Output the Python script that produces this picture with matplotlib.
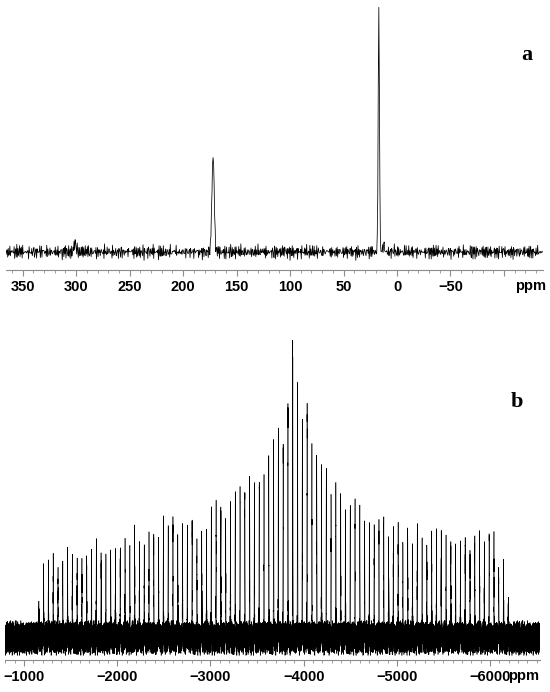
import matplotlib
matplotlib.use("Agg")
import matplotlib.pyplot as plt
import numpy as np

# ---- panel a : 13C CP/MAS ----
a_peak_ppm = [172.0, 17.0, 301.0, 12.5]
a_peak_height = [40.0, 100.0, 4.0, 3.0]
a_peak_sigma = [1.1, 0.6, 1.0, 0.8]
a_ticks = [350, 300, 250, 200, 150, 100, 50, 0, -50, -100]
a_ticklabels = ["350", "300", "250", "200", "150", "100", "50", "0", "\u221250", ""]

# ---- panel b : spinning sideband manifold ----
b_first_ppm = -1159.0
b_spacing_ppm = 51.4
b_heights = [10.5, 20.8, 22.5, 26.1, 21.8, 24.7, 25.9, 26.8, 25.0, 25.7,
             23.6, 27.7, 30.0, 25.3, 27.5, 27.3, 28.6, 29.1, 30.1, 29.8,
             35.8, 30.7, 29.0, 31.8, 32.8, 33.6, 37.6, 34.9, 38.0, 35.2,
             34.7, 35.6, 37.3, 32.4, 32.4, 34.7, 40.7, 42.3, 44.3, 37.2,
             44.9, 44.9, 49.4, 48.3, 53.9, 51.1, 50.9, 55.1, 58.3, 65.1,
             68.4, 63.2, 76.4, 100.0, 85.0, 71.1, 77.5, 62.4, 58.1, 56.6,
             54.3, 46.0, 49.8, 49.0, 42.0, 43.2, 44.1, 42.6, 38.1, 37.3,
             36.9, 35.7, 38.1, 33.3, 33.3, 37.4, 30.7, 32.8, 29.7, 35.7,
             29.4, 28.3, 33.9, 31.7, 31.8, 30.7, 30.1, 28.1, 27.7, 32.2,
             26.0, 30.6, 33.2, 29.9, 32.4, 32.7, 20.2, 23.6, 11.9]
b_ticks = [-1000, -2000, -3000, -4000, -5000, -6000]
b_ticklabels = ["\u22121000", "\u22122000", "\u22123000", "\u22124000", "\u22125000", "\u22126000"]

# baseline noise texture (hand typed)
noise_1 = [0.3, -0.5, 0.8, -0.2, -0.9, 0.4, 0.1, -0.6, 0.7, -0.3, 0.5, -0.8, 0.2,
           0.9, -0.4, -0.1, 0.6, -0.7, 0.0, 0.4, -0.5, 0.8, -0.9, 0.3, 0.1, -0.2,
           0.7, -0.6, 0.5, -0.4, 0.2, -0.8, 0.9, -0.1, -0.3, 0.6, -0.7, 0.4, 0.0,
           -0.5, 0.8, -0.2, 0.3, -0.9, 0.5, 0.1, -0.6, 0.7, -0.4, 0.2, -0.3]
noise_2 = [-0.4, 0.7, 0.1, -0.8, 0.5, -0.2, 0.9, -0.6, 0.3, 0.0, -0.7, 0.6, -0.1,
           0.4, -0.9, 0.2, 0.8, -0.3, -0.5, 0.6, 0.1, -0.8, 0.4, -0.2, 0.7, -0.6,
           0.0, 0.5, -0.9, 0.3, 0.2, -0.4, 0.8, -0.7, 0.1, -0.3, 0.6, -0.5, 0.9,
           -0.1, 0.4]


def spectrum(ppm, centers, heights, sigmas, noise_amp):
    y = np.resize(noise_1, ppm.size) + np.resize(noise_2, ppm.size)[::-1]
    y = y * noise_amp
    for c, h, s in zip(centers, heights, sigmas):
        y = y + h * np.exp(-0.5 * ((ppm - c) / s) ** 2)
    return y


def style_axis(ax):
    for side in ["left", "right", "top"]:
        ax.spines[side].set_visible(False)
    ax.spines["bottom"].set_color("#8c8c8c")
    ax.spines["bottom"].set_linewidth(0.8)
    ax.set_yticks([])
    ax.tick_params(axis="x", which="major", direction="out", length=4, width=0.8,
                   color="#8c8c8c", pad=3.5)
    ax.tick_params(axis="x", which="minor", direction="out", length=2.2, width=0.6,
                   color="#8c8c8c")
    for lab in ax.get_xticklabels():
        lab.set_fontfamily("Liberation Sans")
        lab.set_fontweight("bold")
        lab.set_fontsize(10.5)


def ppm_label(ax, x):
    ax.annotate("ppm", xy=(x, 0), xycoords=("data", "axes fraction"),
                xytext=(0, -6.4), textcoords="offset points", ha="center", va="top",
                fontfamily="Liberation Sans", fontweight="bold", fontsize=10.5)


fig = plt.figure(figsize=(5.5, 6.92), dpi=100)

# panel a
ax1 = fig.add_axes([6 / 550, 1 - 270 / 692, 537 / 550, 265 / 692])
ppm_a = np.arange(366.0, -140.0, -0.5)
y_a = spectrum(ppm_a, a_peak_ppm, a_peak_height, a_peak_sigma, 1.9)
ax1.plot(ppm_a, y_a, color="black", lw=0.55)
ax1.set_xlim(365.6, -136.5)
ax1.set_ylim(-7.4, 102.1)
ax1.set_xticks(a_ticks)
ax1.set_xticklabels(a_ticklabels)
ax1.set_xticks(np.arange(360, -140, -10), minor=True)
style_axis(ax1)
ppm_label(ax1, -125)
fig.text(527 / 550, 1 - 55 / 692, "a", fontfamily="Liberation Serif",
         fontweight="bold", fontsize=16, ha="center", va="center")

# panel b
ax2 = fig.add_axes([5 / 550, 1 - 660 / 692, 535 / 550, 320 / 692])
ppm_b = np.arange(-780.0, -6550.0, -0.2)
b_centers = b_first_ppm - b_spacing_ppm * np.arange(len(b_heights))
y_b = spectrum(ppm_b, b_centers, b_heights, [2.0] * len(b_heights), 3.3)
ax2.plot(ppm_b, y_b, color="black", lw=0.4)
ax2.set_xlim(-796, -6536)
ax2.set_ylim(-7.5, 101.7)
ax2.set_xticks(b_ticks)
ax2.set_xticklabels(b_ticklabels)
ax2.set_xticks(np.arange(-800, -6540, -100), minor=True)
style_axis(ax2)
ppm_label(ax2, -6360)
fig.text(517 / 550, 1 - 402 / 692, "b", fontfamily="Liberation Serif",
         fontweight="bold", fontsize=16, ha="center", va="center")

fig.savefig("out.png", dpi=100)
